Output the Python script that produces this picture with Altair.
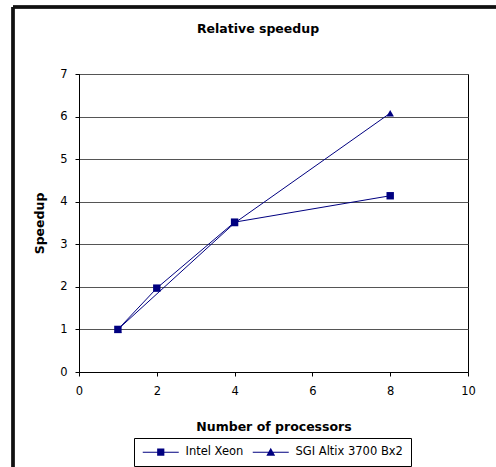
import altair as alt
import pandas as pd

chart_title = "Relative speedup"
series_names = ["Intel Xeon", "SGI Altix 3700 Bx2"]
intel_procs = [1, 2, 4, 8]
intel_speedup = [1.0, 1.97, 3.52, 4.14]
sgi_procs = [1, 4, 8]
sgi_speedup = [1.0, 3.5, 6.08]
x_ticks = [0, 2, 4, 6, 8, 10]
y_ticks = [0, 1, 2, 3, 4, 5, 6, 7]

NAVY = "#000080"
FONT = "DejaVu Sans"
LBL = 11.5
TTL = 12.5

df = pd.DataFrame({
    "series": [series_names[0]] * len(intel_procs) + [series_names[1]] * len(sgi_procs),
    "procs": intel_procs + sgi_procs,
    "speedup": intel_speedup + sgi_speedup,
})

x = alt.X("procs:Q",
          scale=alt.Scale(domain=[0, 10], nice=False, zero=False),
          axis=alt.Axis(values=x_ticks, title="Number of processors", grid=False,
                        domainColor="black", tickColor="black", tickSize=4,
                        labelPadding=9, labelFont=FONT, labelFontSize=LBL, labelColor="black",
                        titleFont=FONT, titleFontSize=TTL, titleFontWeight="bold",
                        titleColor="black", titlePadding=24, labelFlush=False))
y = alt.Y("speedup:Q",
          scale=alt.Scale(domain=[0, 7], nice=False),
          axis=alt.Axis(values=y_ticks, title="Speedup", grid=True, gridColor="#555555",
                        gridWidth=1, domainColor="black", tickColor="black", tickSize=4,
                        labelPadding=8, labelFont=FONT, labelFontSize=LBL, labelColor="black",
                        titleFont=FONT, titleFontSize=TTL, titleFontWeight="bold",
                        titleColor="black", titlePadding=13))

lines = alt.Chart(df).mark_line(color=NAVY, strokeWidth=1).encode(
    x=x, y=y, detail="series:N")

points = alt.Chart(df).mark_point(filled=True, color=NAVY, opacity=1, size=55).encode(
    x=x, y=y,
    shape=alt.Shape("series:N",
                    scale=alt.Scale(domain=series_names, range=["square", "triangle-up"]),
                    legend=None))

# legend symbols: a thin filled bar (the line) plus the marker, in one path
bar = "M-4.5,-0.125L4.5,-0.125L4.5,0.125L-4.5,0.125Z"
sq_path = bar + "M-0.9,-0.9L0.9,-0.9L0.9,0.9L-0.9,0.9Z"
tri_path = bar + "M0,-1.1L1.1,0.9L-1.1,0.9Z"

legend_layer = alt.Chart(df).transform_filter("false").mark_point(
    filled=True, color=NAVY, opacity=1, strokeWidth=0).encode(
    x=x, y=y,
    shape=alt.Shape("series:N",
                    scale=alt.Scale(domain=series_names, range=[sq_path, tri_path]),
                    legend=alt.Legend(title=None, orient="none", direction="horizontal",
                                      legendX=55, legendY=364,
                                      symbolSize=64, symbolFillColor=NAVY,
                                      symbolStrokeWidth=0, symbolOpacity=1,
                                      symbolOffset=13, labelOffset=19, columnPadding=8,
                                      labelFont=FONT, labelFontSize=LBL, labelColor="black",
                                      strokeColor="black", padding=8, fillColor="white")))

title_text = alt.Chart(pd.DataFrame({"t": [chart_title]})).mark_text(
    font=FONT, fontSize=TTL, fontWeight="bold", color="black", align="center",
    baseline="middle").encode(text="t:N", x=alt.value(179), y=alt.value(-45))

frame_left = alt.Chart(df).mark_rule(color="#111111", strokeWidth=2.5).encode(
    x=alt.value(-66), y=alt.value(-67), y2=alt.value(400))
frame_top = alt.Chart(df).mark_rule(color="#111111", strokeWidth=2.5).encode(
    x=alt.value(-66), x2=alt.value(417), y=alt.value(-67))

chart = alt.layer(frame_left, frame_top, title_text, lines, points, legend_layer).resolve_scale(
    shape="independent"
).properties(
    width=389, height=298,
    padding={"left": 79, "top": 74, "right": 28, "bottom": 95},
    autosize=alt.AutoSizeParams(type="none"),
).configure_view(stroke="black", strokeWidth=1)

chart.save("out.html", embed_options={"renderer": "svg", "actions": False})
